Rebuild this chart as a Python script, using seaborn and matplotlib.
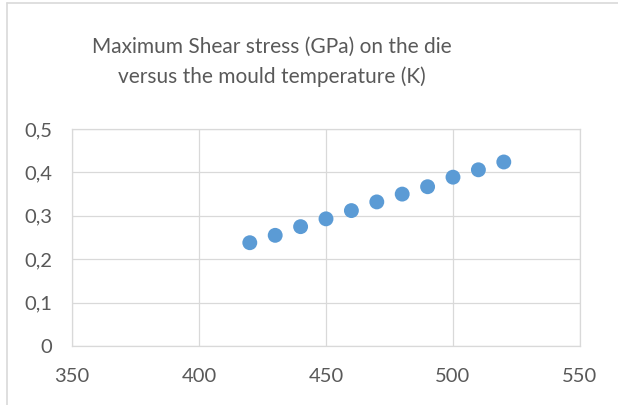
import matplotlib
matplotlib.use("Agg")
import matplotlib.pyplot as plt
import seaborn as sns
import pandas as pd
from matplotlib.ticker import FuncFormatter, MultipleLocator
from matplotlib.lines import Line2D

temperature = [420, 430, 440, 450, 460, 470, 480, 490, 500, 510, 520]
shear_stress = [0.238, 0.255, 0.275, 0.293, 0.312, 0.332, 0.350, 0.367, 0.389, 0.406, 0.424]
title_lines = ["Maximum Shear stress (GPa) on the die", "versus the mould temperature (K)"]

df = pd.DataFrame({"T": temperature, "S": shear_stress})

sns.set_theme(style="white")
plt.rcParams['font.family'] = ['Lato', 'DejaVu Sans']

W, H = 618, 405
fig = plt.figure(figsize=(W / 100, H / 100), dpi=100)
ax = fig.add_axes([72 / W, 1 - 346 / H, (580 - 72) / W, (346 - 129) / H])

sns.scatterplot(data=df, x="T", y="S", ax=ax, color="#5B9BD5", s=115,
                edgecolor="none", zorder=3, legend=False)

ax.set_xlim(350, 550)
ax.set_ylim(0, 0.5)
ax.xaxis.set_major_locator(MultipleLocator(50))
ax.yaxis.set_major_locator(MultipleLocator(0.1))
ax.yaxis.set_major_formatter(FuncFormatter(lambda v, p: ("%g" % round(v, 2)).replace(".", ",")))
ax.grid(True, color="#D9D9D9", linewidth=0.9)
for s in ax.spines.values():
    s.set_color("#D9D9D9")
    s.set_linewidth(0.9)
ax.tick_params(axis="both", length=0, labelsize=14.5, colors="#595959")
ax.tick_params(axis="x", pad=16)
ax.tick_params(axis="y", pad=14)
ax.set_xlabel("")
ax.set_ylabel("")

fig.text(272 / W, 1 - 62 / H, "\n".join(title_lines), ha="center", va="center",
         fontsize=15, color="#595959", linespacing=1.55)

fig.add_artist(Line2D([7 / W, 7 / W], [0, 1 - 3 / H], transform=fig.transFigure,
                      color="#D9D9D9", linewidth=1.2))
fig.add_artist(Line2D([7 / W, 1], [1 - 3 / H, 1 - 3 / H], transform=fig.transFigure,
                      color="#D9D9D9", linewidth=1.2))

fig.savefig("out.png", dpi=100, facecolor="white")
